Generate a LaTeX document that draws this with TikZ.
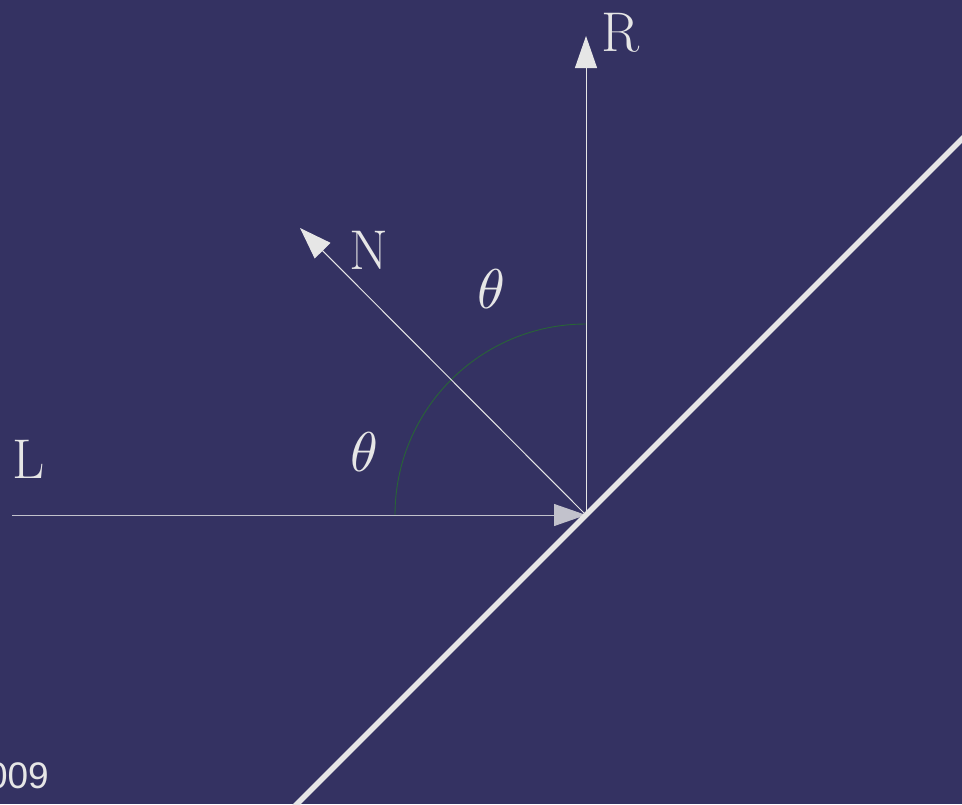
\documentclass[tikz,border=0pt]{standalone}
\usepackage{fontspec}
\newfontfamily\sansfont{Liberation Sans}
\usetikzlibrary{arrows.meta}
\definecolor{bg}{RGB}{52,50,98}
\definecolor{fg}{RGB}{230,230,230}
\definecolor{arcgreen}{RGB}{40,100,55}
\begin{document}
\begin{tikzpicture}[x=1pt,y=-1pt,
  vec/.style={draw=fg,line width=1pt,-{Triangle[length=32pt,width=22pt]}},
  lbl/.style={text=fg,inner sep=0pt,font=\fontsize{56}{60}\selectfont},
  ang/.style={text=fg,inner sep=0pt,scale=5.6},
  mirror/.style={draw=fg,line width=5.5pt}]
\useasboundingbox (0,0) rectangle (962,804);
\clip (0,0) rectangle (962,804);
\fill[bg] (0,0) rectangle (962,804);
\coordinate (O) at (586,515);
\coordinate (Lstart) at (12,515);
\coordinate (Rtip) at (586,36);
\coordinate (Ntip) at (300,228);
\coordinate (Mlow) at (290,811);
\coordinate (Mhigh) at (970,131);
\draw[arcgreen,line width=0.9pt] (395,515) arc[start angle=180,end angle=270,radius=191];
\draw[vec,draw=fg!80!bg] (Lstart) -- (O);
\draw[vec] (O) -- (Rtip);
\draw[vec] (O) -- (Ntip);
\draw[mirror] (Mlow) -- (Mhigh);
\node[lbl] (R) at (621,33) {R};
\node[lbl] (N) at (369,250) {N};
\node[lbl] (L) at (29,459) {L};
\node[ang] (t1) at (491,289) {$\theta$};
\node[ang] (t2) at (364,452) {$\theta$};
\node[text=fg,inner sep=0pt,anchor=east,font=\sansfont\fontsize{37}{40}\selectfont] (yr) at (49,776) {2009};
\end{tikzpicture}
\end{document}
